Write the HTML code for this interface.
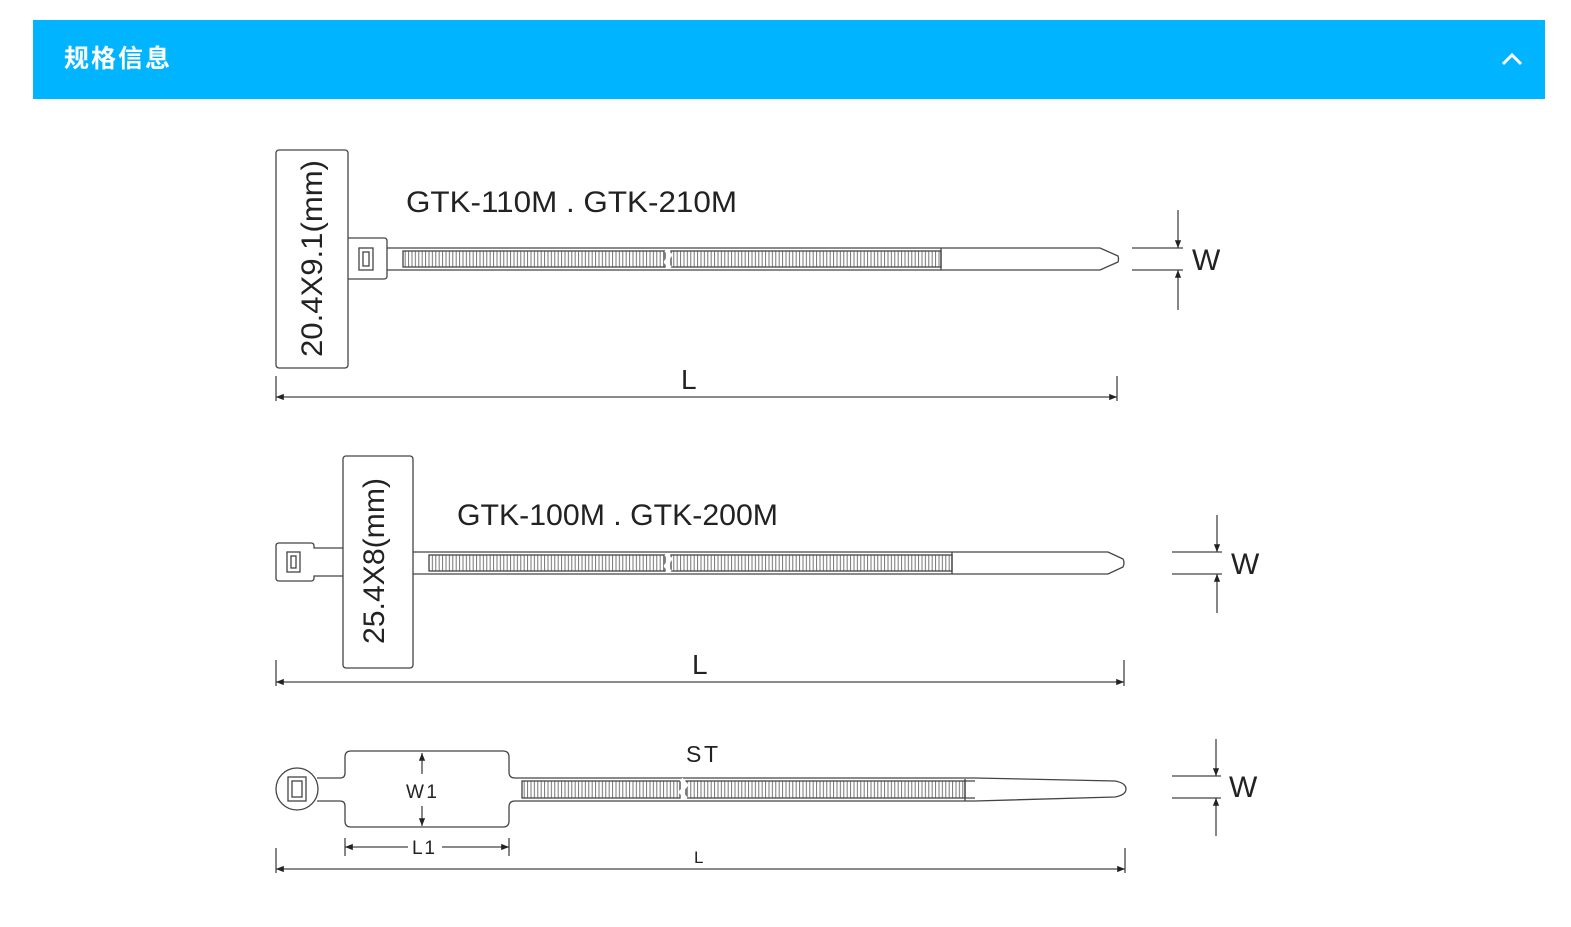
<!DOCTYPE html>
<html><head><meta charset="utf-8"><style>
html,body{margin:0;padding:0;background:#fff;width:1571px;height:927px;overflow:hidden}
svg{display:block}
text{font-family:"Liberation Sans",Arial,sans-serif;fill:#222}
</style></head><body>
<svg width="1571" height="927" viewBox="0 0 1571 927" xmlns="http://www.w3.org/2000/svg">
<defs>
<pattern id="rid" x="0" y="0" width="3.4" height="10" patternUnits="userSpaceOnUse">
<rect width="3.4" height="10" fill="#fff"/><line x1="0.6" y1="0" x2="0.6" y2="10" stroke="#666" stroke-width="0.9"/>
</pattern>
<marker id="ar" viewBox="0 0 10 10" refX="10" refY="5" markerWidth="9" markerHeight="6" orient="auto-start-reverse"><path d="M0,1 L10,5 L0,9 z" fill="#222"/></marker>
</defs>
<rect x="33" y="20" width="1512" height="79" fill="#00b4ff"/>
<text x="64" y="67" font-size="25" font-weight="bold" textLength="106" style="fill:#fff;font-family:'Liberation Sans','Noto Sans CJK SC',sans-serif">规格信息</text>
<polyline points="1503,64 1512,55 1521,64" fill="none" stroke="#fff" stroke-width="3"/>

<g stroke="#444" stroke-width="1.3" fill="none">
<rect x="276" y="150" width="72" height="218" rx="3"/>
<path d="M348,238 H384 Q387,238 387,241 V276 Q387,279 384,279 H348"/>
<rect x="359" y="248" width="14" height="22"/><rect x="363" y="252" width="6" height="14"/>
<path d="M387,248 H1100 L1118,256 Q1119,259 1118,262 L1100,270 H387"/>
<rect x="403" y="251" width="262" height="16" fill="url(#rid)"/>
<rect x="671" y="251" width="270" height="16" fill="url(#rid)"/>
<path d="M666,250 L670,255 L666,262 L670,268" stroke="#fff" stroke-width="4"/>
<line x1="941" y1="248" x2="941" y2="270"/>
<line x1="1132" y1="248" x2="1183" y2="248"/><line x1="1132" y1="270" x2="1183" y2="270"/>
<line x1="1178" y1="210" x2="1178" y2="248" marker-end="url(#ar)"/>
<line x1="1178" y1="310" x2="1178" y2="270" marker-end="url(#ar)"/>
<line x1="276" y1="376" x2="276" y2="401"/><line x1="1117" y1="376" x2="1117" y2="401"/>
<line x1="276" y1="397" x2="1117" y2="397" marker-start="url(#ar)" marker-end="url(#ar)"/>

<rect x="343" y="456" width="70" height="212" rx="3"/>
<path d="M343,548 H314 V546 Q314,543 311,543 H279 Q276,543 276,546 V578 Q276,581 279,581 H311 Q314,581 314,578 V576 H343"/>
<rect x="287" y="552" width="13" height="20"/><rect x="291" y="556" width="5" height="12"/>
<path d="M413,552 H1108 L1123,559 Q1125,563 1123,567 L1108,574 H413"/>
<rect x="429" y="555" width="236" height="16" fill="url(#rid)"/>
<rect x="671" y="555" width="281" height="16" fill="url(#rid)"/>
<path d="M666,554 L670,559 L666,566 L670,572" stroke="#fff" stroke-width="4"/>
<line x1="952" y1="552" x2="952" y2="574"/>
<line x1="1172" y1="552" x2="1222" y2="552"/><line x1="1172" y1="574" x2="1222" y2="574"/>
<line x1="1217" y1="515" x2="1217" y2="552" marker-end="url(#ar)"/>
<line x1="1217" y1="613" x2="1217" y2="574" marker-end="url(#ar)"/>
<line x1="276" y1="660" x2="276" y2="686"/><line x1="1124" y1="660" x2="1124" y2="686"/>
<line x1="276" y1="682" x2="1124" y2="682" marker-start="url(#ar)" marker-end="url(#ar)"/>

<circle cx="297" cy="789" r="21"/>
<rect x="288" y="777" width="18" height="24"/><rect x="292" y="781" width="10" height="16"/>
<path d="M317,778 H340 Q345,778 345,773 V757 Q345,751 351,751 H503 Q509,751 509,757 V772 Q509,778 515,778 H975 L1115,781 Q1126,783 1126,789 Q1126,795 1115,797 L975,801 H515 Q509,801 509,807 V821 Q509,827 503,827 H351 Q345,827 345,821 V806 Q345,801 340,801 H317"/>
<rect x="522" y="781" width="158" height="17" fill="url(#rid)"/>
<rect x="686" y="781" width="279" height="17" fill="url(#rid)"/>
<path d="M681,779 L686,785 L681,792 L686,799" stroke="#fff" stroke-width="4"/>
<path d="M965,779 V801 M965,781 H975 M965,798 H975"/>
<line x1="422" y1="753" x2="422" y2="774" marker-start="url(#ar)"/>
<line x1="422" y1="806" x2="422" y2="826" marker-end="url(#ar)"/>
<line x1="345" y1="838" x2="345" y2="856"/><line x1="509" y1="838" x2="509" y2="856"/>
<line x1="345" y1="847" x2="408" y2="847" marker-start="url(#ar)"/>
<line x1="442" y1="847" x2="509" y2="847" marker-end="url(#ar)"/>
<line x1="1172" y1="776" x2="1221" y2="776"/><line x1="1172" y1="798" x2="1221" y2="798"/>
<line x1="1216" y1="739" x2="1216" y2="776" marker-end="url(#ar)"/>
<line x1="1216" y1="836" x2="1216" y2="798" marker-end="url(#ar)"/>
<line x1="276" y1="848" x2="276" y2="873"/><line x1="1125" y1="848" x2="1125" y2="873"/>
<line x1="276" y1="869" x2="1125" y2="869" marker-start="url(#ar)" marker-end="url(#ar)"/>
</g>

<text x="406" y="212" font-size="30" textLength="331" lengthAdjust="spacingAndGlyphs">GTK-110M . GTK-210M</text>
<text transform="translate(322,357) rotate(-90)" font-size="30" textLength="197" lengthAdjust="spacingAndGlyphs">20.4X9.1(mm)</text>
<text x="1192" y="270" font-size="30">W</text>
<text x="681" y="389" font-size="28">L</text>
<text x="457" y="525" font-size="30" textLength="321" lengthAdjust="spacingAndGlyphs">GTK-100M . GTK-200M</text>
<text transform="translate(384,644) rotate(-90)" font-size="30" textLength="166" lengthAdjust="spacingAndGlyphs">25.4X8(mm)</text>
<text x="1231" y="574" font-size="30">W</text>
<text x="692" y="674" font-size="28">L</text>
<text x="686" y="762" font-size="23" textLength="32">ST</text>
<text x="406" y="798" font-size="19" textLength="31">W1</text>
<text x="412" y="854" font-size="19" textLength="23">L1</text>
<text x="694" y="863" font-size="17">L</text>
<text x="1229" y="797" font-size="30">W</text>
</svg>
</body></html>
